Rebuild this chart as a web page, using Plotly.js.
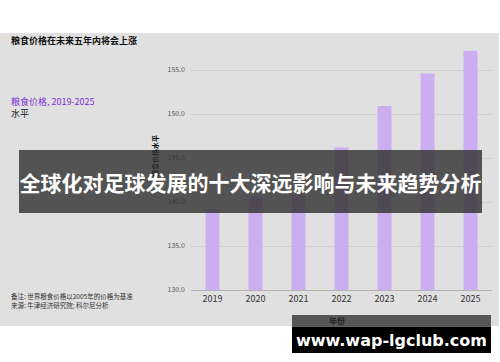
<!DOCTYPE html>
<html>
<head>
<meta charset="utf-8">
<script src="https://cdn.plot.ly/plotly-3.0.1.min.js"></script>
<style>html,body{margin:0;padding:0;background:#fff;}#chart{width:500px;height:362px;}</style>
</head>
<body>
<div id="chart"></div>
<script>
const years = ['2019', '2020', '2021', '2022', '2023', '2024', '2025'];
const prices = [139.2, 140.6, 140.8, 146.2, 150.9, 154.6, 157.2];
const yTicks = [130, 135, 140, 145, 150, 155];
const chartTitle = '粮食价格在未来五年内将会上涨';
const seriesLabel = '粮食价格, 2019-2025';
const unitLabel = '水平';
const yTitle = '粮食价格水平';
const xTitle = '年份';
const noteText = '备注: 世界粮食价格以2005年的价格为基准';
const sourceText = '来源: 牛津经济研究院; 科尔尼分析';
const bannerText = '全球化对足球发展的十大深远影响与未来趋势分析';
const watermarkText = 'www.wap-lgclub.com';

const W = 500, H = 362;
const px = x => x / W;
const py = y => (H - y) / H;
const FONT = '"Noto Sans CJK SC", "Noto Sans", sans-serif';

const trace = {
  type: 'bar',
  x: years,
  y: prices,
  marker: {color: '#cbaef0'},
  hoverinfo: 'skip'
};

const layout = {
  width: W, height: H,
  margin: {l: 0, r: 0, t: 0, b: 0},
  paper_bgcolor: '#ffffff',
  plot_bgcolor: 'rgba(0,0,0,0)',
  font: {family: FONT},
  showlegend: false,
  bargap: 0.674,
  xaxis: {
    type: 'category',
    domain: [px(191), px(492)],
    tickfont: {size: 9, color: '#333333', family: FONT},
    showgrid: false, showline: true, linecolor: '#b3b3b3', linewidth: 1,
    ticks: '', fixedrange: true, automargin: false
  },
  yaxis: {
    domain: [py(290), py(49)],
    range: [130, 157.39],
    tickvals: yTicks,
    tickformat: '.1f',
    tickfont: {size: 7, color: '#555555', family: FONT},
    gridcolor: '#d0d0d0', gridwidth: 1,
    zeroline: false, showline: false, ticks: '', fixedrange: true, automargin: false,
    ticklabelstandoff: 5
  },
  shapes: [
    {type: 'rect', xref: 'paper', yref: 'paper', layer: 'below',
     x0: px(0), x1: px(499), y0: py(326), y1: py(33),
     fillcolor: '#e0e0e0', line: {width: 0}}
  ],
  annotations: [
    {xref: 'paper', yref: 'paper', x: px(9), y: py(41), xanchor: 'left', yanchor: 'middle',
     text: '<b>' + chartTitle + '</b>', showarrow: false, font: {size: 9, color: '#111111', family: FONT}},
    {xref: 'paper', yref: 'paper', x: px(9), y: py(101), xanchor: 'left', yanchor: 'middle',
     text: seriesLabel, showarrow: false, font: {size: 9, color: '#7a2fd8', family: FONT}},
    {xref: 'paper', yref: 'paper', x: px(9), y: py(113), xanchor: 'left', yanchor: 'middle',
     text: unitLabel, showarrow: false, font: {size: 9, color: '#222222', family: FONT}},
    {xref: 'paper', yref: 'paper', x: px(9), y: py(296), xanchor: 'left', yanchor: 'middle',
     text: noteText, showarrow: false, font: {size: 6.5, color: '#333333', family: FONT}},
    {xref: 'paper', yref: 'paper', x: px(9), y: py(305), xanchor: 'left', yanchor: 'middle',
     text: sourceText, showarrow: false, font: {size: 6.5, color: '#333333', family: FONT}},
    {xref: 'paper', yref: 'paper', x: px(155), y: py(156), xanchor: 'center', yanchor: 'middle',
     text: '<b>' + yTitle + '</b>', textangle: -90, showarrow: false, font: {size: 7, color: '#111111', family: FONT}},
    {xref: 'paper', yref: 'paper', x: px(337), y: py(320), xanchor: 'center', yanchor: 'middle',
     text: '<b>' + xTitle + '</b>', showarrow: false, font: {size: 8, color: '#111111', family: FONT}},
    {xref: 'paper', yref: 'paper', x: px(250.5), y: py(181.5), xanchor: 'center', yanchor: 'middle',
     text: '<b>' + bannerText + '</b>', showarrow: false,
     width: 463, height: 63, borderpad: 0, borderwidth: 0,
     bgcolor: 'rgba(48,48,48,0.8)', font: {size: 21, color: '#ffffff', family: FONT}},
    {xref: 'paper', yref: 'paper', x: px(391.5), y: py(321), xanchor: 'center', yanchor: 'middle',
     text: ' ', showarrow: false,
     width: 199, height: 12, borderpad: 0, borderwidth: 0,
     bgcolor: 'rgba(40,40,40,0.75)', font: {size: 6, color: '#ffffff', family: FONT}},
    {xref: 'paper', yref: 'paper', x: px(391.5), y: py(340), xanchor: 'center', yanchor: 'middle',
     text: '<b>' + watermarkText + '</b>', showarrow: false,
     width: 199, height: 26, borderpad: 0, borderwidth: 0,
     bgcolor: '#000000', font: {size: 16, color: '#ffffff', family: '"DejaVu Sans", sans-serif'}}
  ]
};

Plotly.newPlot('chart', [trace], layout, {displayModeBar: false, staticPlot: true});
</script>
</body>
</html>
